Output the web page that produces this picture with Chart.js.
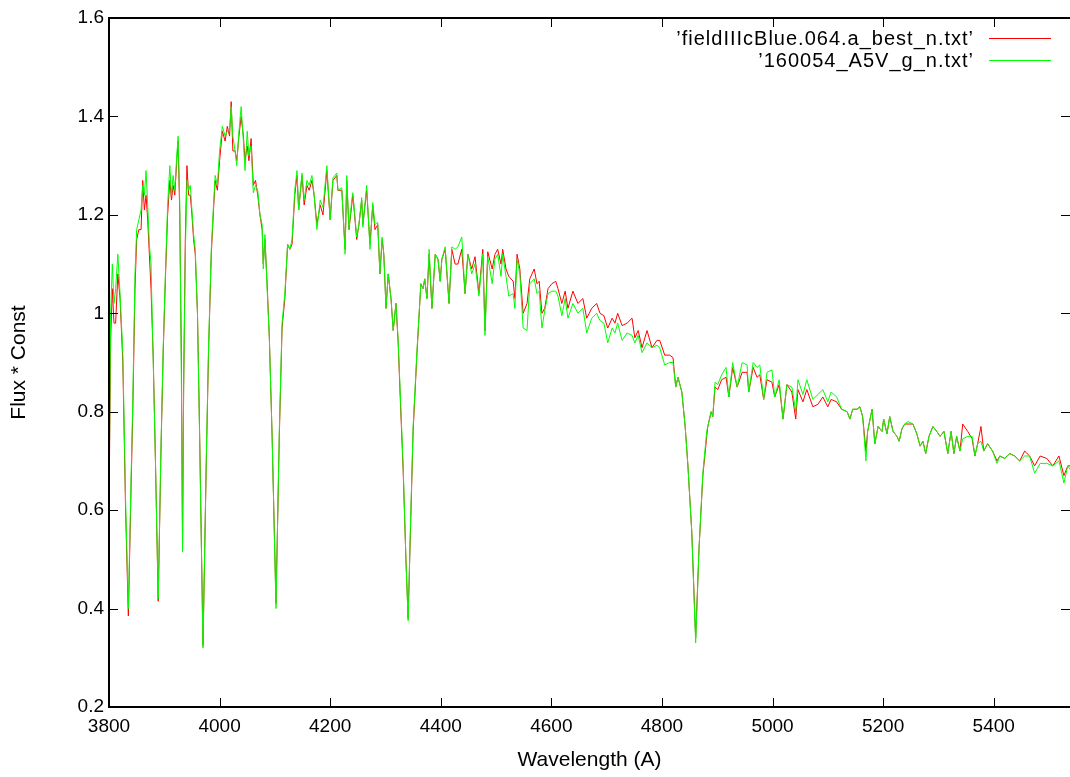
<!DOCTYPE html>
<html>
<head>
<meta charset="utf-8">
<title>Spectrum comparison</title>
<script src="https://cdn.jsdelivr.net/npm/chart.js@4.4.1/dist/chart.umd.min.js"></script>
<style>
    html, body { margin: 0; padding: 0; background: #fff; }
    #spectrumChart { display: block; }
</style>
</head>
<body>
<canvas id="spectrumChart" width="1070" height="777"></canvas>
<script>

// Wavelength in Angstrom
const wavelength = [
    3800, 3803, 3806, 3809, 3812, 3816, 3820, 3825, 3830, 3835,
    3840, 3843, 3847, 3850, 3854, 3858, 3861, 3864, 3867, 3870,
    3873, 3876, 3880, 3884, 3889, 3894, 3898, 3902, 3906, 3910,
    3913, 3916, 3919, 3922, 3925, 3928, 3931, 3933, 3935, 3938,
    3941, 3944, 3947, 3950, 3953, 3956, 3960, 3964, 3970, 3976,
    3980, 3985, 3989, 3992, 3996, 4000, 4005, 4010, 4014, 4018,
    4021, 4024, 4028, 4031, 4035, 4039, 4043, 4046, 4050, 4053,
    4057, 4061, 4065, 4069, 4073, 4077, 4079, 4082, 4086, 4090,
    4095, 4102, 4108, 4113, 4118, 4123, 4127, 4131,
    4136, 4140, 4143, 4149, 4153, 4158, 4162, 4167, 4171, 4176,
    4182, 4187, 4194, 4200, 4205, 4212, 4214, 4221, 4227, 4230,
    4234, 4239, 4241, 4248, 4252, 4257, 4259, 4266, 4272, 4277,
    4281, 4286, 4290, 4294, 4297, 4301, 4305, 4310, 4314, 4319,
    4323, 4326, 4332, 4337, 4341, 4345, 4350, 4357, 4364,
    4368, 4371, 4375, 4379, 4384, 4390, 4395, 4399, 4402, 4408,
    4415, 4420, 4426, 4431, 4438, 4444, 4449, 4456, 4462, 4469,
    4476, 4480, 4485,
    4493, 4498, 4503, 4509, 4512, 4518, 4523, 4531, 4534, 4538,
    4543, 4549, 4556, 4561, 4569, 4574, 4578, 4583, 4588, 4594,
    4601, 4608, 4612, 4619, 4625, 4630, 4639, 4648, 4657, 4664,
    4673,
    4682, 4688, 4695, 4702, 4710, 4715, 4720, 4728, 4737, 4746,
    4751, 4757, 4764, 4773, 4782, 4791, 4796, 4805, 4814, 4820,
    4825, 4829, 4836, 4842, 4847, 4854, 4861, 4867, 4874,
    4881, 4883, 4889, 4892, 4896, 4901, 4908, 4916, 4921, 4928,
    4936, 4945, 4954, 4957, 4965, 4972, 4977, 4984, 4990, 4999,
    5004, 5012, 5019, 5026, 5035, 5042, 5046, 5055, 5062,
    5073, 5082, 5091, 5100, 5106, 5116, 5125, 5135, 5140, 5145,
    5153, 5158, 5163, 5169, 5172, 5180, 5185, 5191, 5198, 5201,
    5207, 5212, 5218, 5225, 5229, 5234, 5239, 5245, 5254, 5261,
    5267, 5272,
    5277, 5283, 5290, 5297, 5303, 5310, 5317, 5323, 5328, 5333,
    5339, 5344, 5353, 5361, 5366, 5371, 5377, 5382, 5389, 5398,
    5406, 5411, 5420, 5429, 5438, 5447, 5456, 5465, 5474, 5484,
    5496, 5507, 5518, 5527, 5534, 5540
];

// red curve: 'fieldIIIcBlue.064.a_best_n.txt'
const fieldFlux = [
    0.60, 0.95, 1.05, 0.98, 0.98, 1.08, 1.03, 0.90, 0.60, 0.385,
    0.65, 0.80, 1.05, 1.15, 1.17, 1.17, 1.27, 1.21, 1.24, 1.19,
    1.12, 1.05, 0.91, 0.70, 0.415, 0.72, 0.92, 1.07, 1.20, 1.27,
    1.23, 1.26, 1.24, 1.30, 1.35, 1.20, 0.90, 0.53, 0.85, 1.15,
    1.30, 1.24, 1.24, 1.20, 1.15, 1.12, 1.00, 0.75, 0.325, 0.70,
    0.92, 1.12, 1.21, 1.27, 1.25, 1.31, 1.37, 1.35, 1.38, 1.36,
    1.43, 1.33, 1.33, 1.31, 1.36, 1.40, 1.36, 1.31, 1.34, 1.31,
    1.355, 1.26, 1.27, 1.24, 1.20, 1.17, 1.10, 1.15, 1.06, 0.95,
    0.75, 0.41, 0.75, 0.97, 1.03, 1.14, 1.13, 1.14,
    1.24, 1.28, 1.21, 1.28, 1.22, 1.26, 1.25, 1.27, 1.24, 1.18,
    1.22, 1.20, 1.29, 1.19, 1.27, 1.28, 1.25, 1.25, 1.13, 1.27,
    1.17, 1.22, 1.24, 1.15, 1.18, 1.23, 1.18, 1.25, 1.14, 1.22,
    1.17, 1.18, 1.08, 1.15, 1.12, 1.01, 1.08, 1.03, 0.965, 1.02,
    0.94, 0.85, 0.68, 0.50, 0.38, 0.55, 0.76, 0.92, 1.06,
    1.05, 1.07, 1.03, 1.12, 1.01, 1.12, 1.11, 1.065, 1.11, 1.13,
    1.02, 1.13, 1.10, 1.10, 1.13, 1.04, 1.12, 1.09, 1.115, 1.04,
    1.13, 0.965, 1.125,
    1.09, 1.12, 1.13, 1.10, 1.13, 1.09, 1.075, 1.065, 1.03, 1.12,
    1.09, 1.00, 1.02, 1.07, 1.09, 1.06, 1.065, 1.00, 1.01, 1.05,
    1.06, 1.065, 1.05, 1.02, 1.045, 1.01, 1.045, 1.02, 1.03, 0.99,
    1.01,
    1.02, 1.00, 0.995, 0.97, 0.99, 0.98, 1.00, 0.975, 0.98, 0.99,
    0.95, 0.965, 0.93, 0.965, 0.93, 0.945, 0.945, 0.915, 0.915, 0.91,
    0.85, 0.87, 0.84, 0.77, 0.69, 0.555, 0.34, 0.52, 0.67,
    0.75, 0.77, 0.80, 0.79, 0.85, 0.845, 0.865, 0.87, 0.83, 0.89,
    0.85, 0.88, 0.88, 0.84, 0.89, 0.87, 0.875, 0.825, 0.865, 0.86,
    0.83, 0.855, 0.785, 0.855, 0.84, 0.785, 0.845, 0.82, 0.845,
    0.81, 0.815, 0.83, 0.81, 0.825, 0.82, 0.805, 0.80, 0.785, 0.805,
    0.805, 0.81, 0.79, 0.72, 0.76, 0.805, 0.735, 0.77, 0.76, 0.785,
    0.755, 0.79, 0.76, 0.75, 0.74, 0.765, 0.775, 0.775, 0.775, 0.755,
    0.73, 0.74,
    0.715, 0.75, 0.77, 0.76, 0.75, 0.76, 0.715, 0.76, 0.715, 0.75,
    0.72, 0.775, 0.76, 0.745, 0.71, 0.735, 0.77, 0.72, 0.735, 0.72,
    0.70, 0.71, 0.705, 0.715, 0.71, 0.70, 0.72, 0.71, 0.69, 0.71,
    0.705, 0.69, 0.71, 0.67, 0.69, 0.69
];

// green curve: '160054_A5V_g_n.txt'
const standardFlux = [
    0.62, 1.00, 1.10, 1.02, 1.05, 1.12, 1.04, 0.92, 0.62, 0.40,
    0.67, 0.82, 1.08, 1.17, 1.19, 1.21, 1.26, 1.24, 1.29, 1.22,
    1.14, 1.10, 0.90, 0.70, 0.42, 0.73, 0.93, 1.08, 1.22, 1.30,
    1.24, 1.28, 1.25, 1.31, 1.36, 1.22, 0.85, 0.515, 0.85, 1.12,
    1.27, 1.25, 1.26, 1.21, 1.16, 1.13, 1.00, 0.74, 0.32, 0.71,
    0.93, 1.13, 1.22, 1.28, 1.26, 1.33, 1.38, 1.36, 1.37, 1.37,
    1.42, 1.36, 1.33, 1.30, 1.37, 1.42, 1.35, 1.29, 1.37, 1.32,
    1.34, 1.245, 1.26, 1.25, 1.20, 1.18, 1.09, 1.16, 1.05, 0.95,
    0.75, 0.40, 0.76, 0.98, 1.04, 1.14, 1.13, 1.15,
    1.25, 1.29, 1.21, 1.285, 1.23, 1.27, 1.26, 1.28, 1.24, 1.17,
    1.23, 1.215, 1.30, 1.19, 1.275, 1.285, 1.25, 1.255, 1.12, 1.28,
    1.17, 1.23, 1.245, 1.155, 1.18, 1.235, 1.175, 1.26, 1.13, 1.225,
    1.18, 1.185, 1.08, 1.155, 1.12, 1.01, 1.08, 1.03, 0.965, 1.02,
    0.945, 0.86, 0.69, 0.50, 0.375, 0.56, 0.77, 0.925, 1.06,
    1.05, 1.07, 1.03, 1.13, 1.01, 1.12, 1.11, 1.065, 1.11, 1.135,
    1.02, 1.135, 1.13, 1.135, 1.155, 1.04, 1.12, 1.08, 1.10, 1.035,
    1.12, 0.955, 1.115,
    1.06, 1.11, 1.12, 1.075, 1.12, 1.075, 1.035, 1.04, 1.01, 1.11,
    1.08, 0.97, 0.965, 1.06, 1.07, 1.04, 1.045, 0.97, 1.005, 1.04,
    1.045, 1.045, 1.035, 0.995, 1.03, 0.99, 1.02, 1.00, 1.01, 0.96,
    0.99,
    1.00, 0.985, 0.98, 0.94, 0.97, 0.96, 0.98, 0.945, 0.96, 0.955,
    0.94, 0.955, 0.92, 0.94, 0.93, 0.935, 0.93, 0.895, 0.90, 0.90,
    0.85, 0.87, 0.84, 0.77, 0.69, 0.555, 0.33, 0.52, 0.675,
    0.76, 0.77, 0.80, 0.79, 0.86, 0.855, 0.875, 0.89, 0.83, 0.90,
    0.85, 0.90, 0.895, 0.84, 0.90, 0.89, 0.895, 0.825, 0.88, 0.885,
    0.83, 0.865, 0.785, 0.855, 0.85, 0.80, 0.865, 0.835, 0.865,
    0.825, 0.835, 0.845, 0.82, 0.84, 0.83, 0.805, 0.80, 0.785, 0.805,
    0.805, 0.81, 0.79, 0.70, 0.76, 0.805, 0.735, 0.77, 0.76, 0.785,
    0.755, 0.79, 0.76, 0.75, 0.74, 0.765, 0.775, 0.78, 0.775, 0.755,
    0.73, 0.74,
    0.715, 0.75, 0.77, 0.76, 0.75, 0.76, 0.715, 0.76, 0.715, 0.75,
    0.72, 0.745, 0.75, 0.75, 0.71, 0.735, 0.74, 0.72, 0.735, 0.72,
    0.695, 0.71, 0.705, 0.715, 0.71, 0.70, 0.71, 0.71, 0.675, 0.695,
    0.695, 0.69, 0.70, 0.655, 0.69, 0.68
];

const xTicks = [3800, 4000, 4200, 4400, 4600, 4800, 5000, 5200, 5400];
const yTicks = [0.2, 0.4, 0.6, 0.8, 1, 1.2, 1.4, 1.6];
const seriesNames = ["’fieldIIIcBlue.064.a_best_n.txt’", "’160054_A5V_g_n.txt’"];

const FONT = "'Liberation Sans', Arial, sans-serif";
Chart.defaults.font.family = FONT;
Chart.defaults.font.size = 19;
Chart.defaults.color = "#000";

// gnuplot style border with inward ticks; the right edge of the frame falls off the canvas
const frame = {
    id: "frame",
    afterDatasetsDraw(chart) {
        const { ctx, chartArea: a, scales: { x, y } } = chart;
        ctx.save();
        ctx.strokeStyle = "#000";
        ctx.lineWidth = 1;
        ctx.beginPath();
        xTicks.forEach(v => {
            const px = Math.round(x.getPixelForValue(v)) + 0.5;
            ctx.moveTo(px, a.bottom); ctx.lineTo(px, a.bottom - 9);
            ctx.moveTo(px, a.top); ctx.lineTo(px, a.top + 9);
        });
        yTicks.forEach(v => {
            const py = Math.round(y.getPixelForValue(v)) + 0.5;
            ctx.moveTo(a.left, py); ctx.lineTo(a.left + 9, py);
            ctx.moveTo(a.right, py); ctx.lineTo(a.right - 9, py);
        });
        ctx.stroke();
        ctx.lineWidth = 2;
        ctx.beginPath();
        ctx.moveTo(a.right + 2, a.top);
        ctx.lineTo(a.left, a.top);
        ctx.lineTo(a.left, a.bottom);
        ctx.lineTo(a.right + 2, a.bottom);
        ctx.stroke();
        ctx.restore();
    }
};

// key in the top right corner: text right aligned, sample line after it
const key = {
    id: "key",
    afterDraw(chart) {
        const { ctx } = chart;
        ctx.save();
        ctx.font = "20px " + FONT;
        ctx.letterSpacing = "1px";
        ctx.textAlign = "right";
        ctx.textBaseline = "middle";
        ctx.lineWidth = 1;
        chart.data.datasets.forEach((ds, i) => {
            const rowY = 38 + i * 22;
            ctx.fillStyle = "#000";
            ctx.fillText(ds.label, 974, rowY + 1);
            ctx.strokeStyle = ds.borderColor;
            ctx.beginPath();
            ctx.moveTo(989, rowY + 0.5);
            ctx.lineTo(1051, rowY + 0.5);
            ctx.stroke();
        });
        ctx.restore();
    }
};

const canvas = document.getElementById("spectrumChart");

new Chart(canvas, {
    type: "line",
    data: {
        datasets: [
            {
                label: seriesNames[0],
                data: wavelength.map((w, i) => ({ x: w, y: fieldFlux[i] })),
                borderColor: "#ff0000",
                borderWidth: 1,
                pointRadius: 0,
                tension: 0,
                order: 1
            },
            {
                label: seriesNames[1],
                data: wavelength.map((w, i) => ({ x: w, y: standardFlux[i] })),
                borderColor: "#00ff00",
                borderWidth: 1,
                pointRadius: 0,
                tension: 0,
                order: 0
            }
        ]
    },
    options: {
        responsive: false,
        animation: false,
        events: [],
        layout: { padding: { top: 18, right: 0, bottom: 0, left: 0 } },
        plugins: {
            legend: { display: false },
            tooltip: { enabled: false }
        },
        scales: {
            x: {
                type: "linear",
                min: 3800,
                max: 5538,
                grid: { display: false, tickLength: 0 },
                border: { display: false },
                afterBuildTicks(scale) { scale.ticks = xTicks.map(v => ({ value: v })); },
                afterFit(scale) { scale.height = 70; },
                ticks: {
                    padding: 8,
                    maxRotation: 0,
                    autoSkip: false,
                    callback: v => String(v)
                },
                title: {
                    display: true,
                    text: "Wavelength (A)",
                    font: { size: 21 },
                    padding: { top: 0, bottom: 4 }
                }
            },
            y: {
                type: "linear",
                min: 0.2,
                max: 1.6,
                grid: { display: false, tickLength: 0 },
                border: { display: false },
                afterBuildTicks(scale) { scale.ticks = yTicks.map(v => ({ value: v })); },
                afterFit(scale) { scale.width = 109; },
                ticks: {
                    padding: 5,
                    autoSkip: false,
                    callback: v => String(v)
                },
                title: {
                    display: true,
                    text: "Flux * Const",
                    font: { size: 21 },
                    padding: { top: 7, bottom: 0 }
                }
            }
        }
    },
    plugins: [frame, key]
});

</script>
</body>
</html>
